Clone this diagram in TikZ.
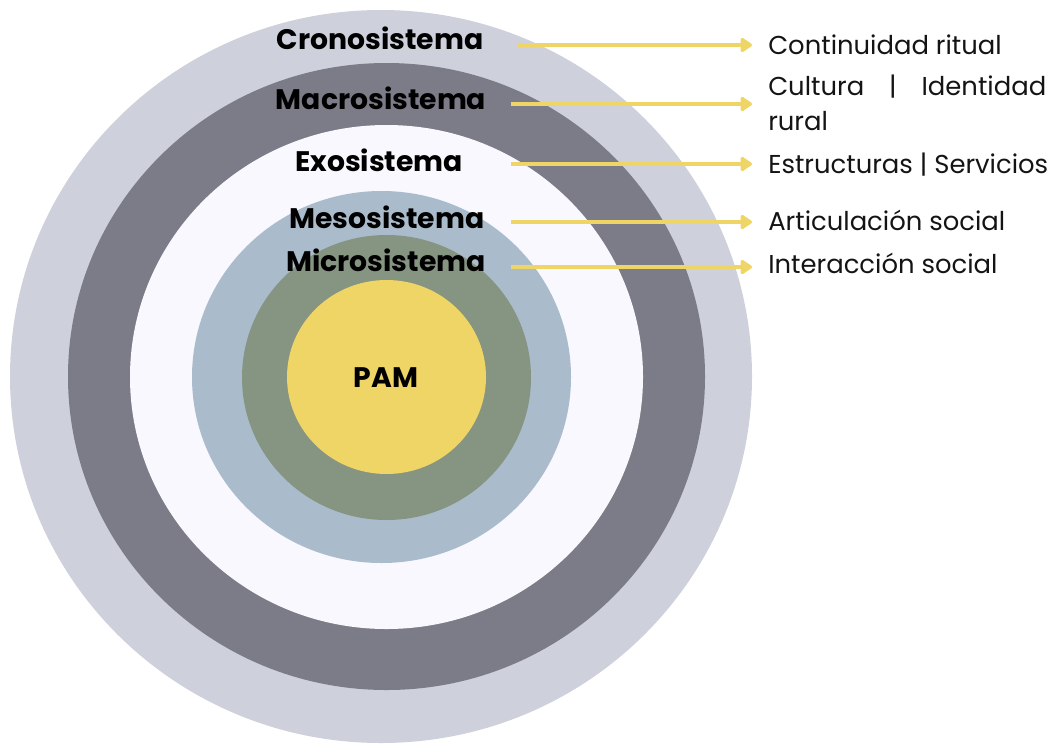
\documentclass[tikz,border=0pt]{standalone}
\usepackage{fontspec}
\setmainfont{Poppins}
\usetikzlibrary{arrows.meta}
\definecolor{cCrono}{HTML}{CED0DC}
\definecolor{cMacro}{HTML}{7B7C88}
\definecolor{cExo}{HTML}{F8F8FE}
\definecolor{cMeso}{HTML}{AABCCB}
\definecolor{cMicro}{HTML}{869482}
\definecolor{cPam}{HTML}{EFD466}
\definecolor{cArrow}{HTML}{EFD466}
\definecolor{cText}{HTML}{141414}
\begin{document}
\begin{tikzpicture}[x=0.75pt,y=-0.75pt,
  lab/.style={font=\bfseries\fontsize{21.2}{24}\selectfont, inner sep=0, anchor=base, text=black},
  desc/.style={font=\fontsize{19.4}{26.25}\selectfont, inner sep=0, anchor=base west, text=cText},
  arr/.style={draw=cArrow, line width=2.6pt, -{Triangle[length=9.5pt,width=12pt,round]}, line join=round}]
\useasboundingbox (0,0) rectangle (1055,743);
% rings
\fill[cCrono] (381,376.5) ellipse [x radius=371, y radius=366.5];
\fill[cMacro] (386.5,376.5) ellipse [x radius=318.5, y radius=313.5];
\fill[cExo] (386.5,377) ellipse [x radius=256.5, y radius=252];
\fill[cMeso] (381.5,377) ellipse [x radius=189.5, y radius=186];
\fill[cMicro] (386.5,377.5) ellipse [x radius=144.5, y radius=142.5];
\fill[cPam] (386.5,377) ellipse [x radius=99.5, y radius=97];
% labels
\node[lab] (crono) at (380,49) {Cronosistema};
\node[lab] (macro) at (381,109) {Macrosistema};
\node[lab] (exo) at (379,171) {Exosistema};
\node[lab] (meso) at (387,228) {Mesosistema};
\node[lab] (micro) at (386,271) {Microsistema};
\node[lab] (pam) at (386,387) {PAM};
% descriptions
\node[desc] (d1) at (768,54) {Continuidad ritual};
\node[desc, text width=208.5pt, align=left] (d2) at (768,95) {Cultura\hfill|\hfill Identidad\\rural};
\node[desc] (d3) at (768,173) {Estructuras | Servicios};
\node[desc] (d4) at (768,230) {Articulación social};
\node[desc] (d5) at (768,273) {Interacción social};
% arrow anchors
\coordinate (s1) at (517,45);
\coordinate (s2) at (511,104);
\coordinate (s3) at (511,164);
\coordinate (s4) at (511,222);
\coordinate (s5) at (511,267);
\draw[arr, shorten >=12pt] (s1) -- (s1 -| d1.west);
\draw[arr, shorten >=12pt] (s2) -- (s2 -| d1.west);
\draw[arr, shorten >=12pt] (s3) -- (s3 -| d3.west);
\draw[arr, shorten >=12pt] (s4) -- (s4 -| d4.west);
\draw[arr, shorten >=12pt] (s5) -- (s5 -| d5.west);
\end{tikzpicture}
\end{document}
